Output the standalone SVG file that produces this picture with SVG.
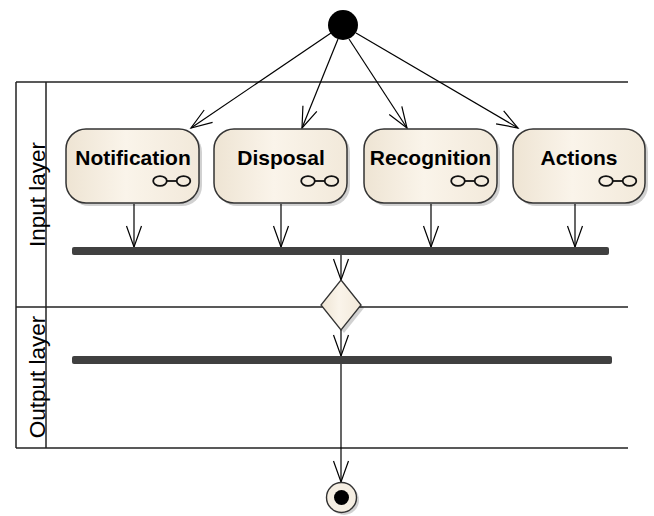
<svg xmlns="http://www.w3.org/2000/svg" width="654" height="516" viewBox="0 0 654 516">
  <style>
    .lane { stroke: #222; stroke-width: 1.5; fill: none; }
    .lanelabel { font-family: "Liberation Sans", Arial, sans-serif; font-size: 22.5px; fill: #000; text-anchor: middle; }
    .node { fill: url(#nodefill); stroke: #333; stroke-width: 1.5; }
    .shadow { fill: #000; opacity: 0.18; }
    .label { font-family: "Liberation Sans", Arial, sans-serif; font-size: 21px; font-weight: bold; fill: #000; text-anchor: middle; }
    .icon { fill: none; stroke: #111; stroke-width: 1.8; }
    .bar { fill: #404040; }
    .edge { stroke: #000; stroke-width: 1.2; fill: none; marker-end: url(#arrow); }
  </style>
  <defs>
    <linearGradient id="nodefill" x1="0" y1="0" x2="1" y2="0">
      <stop offset="0" stop-color="#EEE4D3"/>
      <stop offset="0.45" stop-color="#FAF4EA"/>
      <stop offset="1" stop-color="#F2E9DA"/>
    </linearGradient>
    <marker id="arrow" markerUnits="userSpaceOnUse" markerWidth="26" markerHeight="20" viewBox="-23 -10 26 20" refX="0" refY="0" orient="auto">
      <path d="M -21 -7.5 L 0 0 L -21 7.5" fill="none" stroke="#000" stroke-width="1.2"/>
    </marker>
  </defs>

  <g id="swimlanes">
    <line class="lane" x1="16" y1="82" x2="628" y2="82"/>
    <line class="lane" x1="16" y1="307" x2="628" y2="307"/>
    <line class="lane" x1="16" y1="448" x2="628" y2="448"/>
    <line class="lane" x1="16" y1="82" x2="16" y2="448"/>
    <line class="lane" x1="46" y1="82" x2="46" y2="448"/>
    <text class="lanelabel" transform="translate(45,194.5) rotate(-90)">Input layer</text>
    <text class="lanelabel" transform="translate(45,377) rotate(-90)">Output layer</text>
  </g>

  <g id="connectors">
    <line class="edge" x1="331" y1="33" x2="191" y2="128"/>
    <line class="edge" x1="338" y1="39" x2="302" y2="128"/>
    <line class="edge" x1="349" y1="39" x2="407" y2="128"/>
    <line class="edge" x1="356" y1="33" x2="518" y2="128"/>
    <line class="edge" x1="134" y1="204" x2="134" y2="247"/>
    <line class="edge" x1="281" y1="204" x2="281" y2="247"/>
    <line class="edge" x1="431" y1="204" x2="431" y2="247"/>
    <line class="edge" x1="575" y1="204" x2="575" y2="247"/>
    <line class="edge" x1="341" y1="255" x2="341" y2="280"/>
    <line class="edge" x1="341" y1="330" x2="341" y2="356"/>
    <line class="edge" x1="341" y1="364" x2="341" y2="482"/>
  </g>

  <g id="initial">
    <circle cx="343" cy="25" r="15" fill="#000"/>
  </g>

  <g id="notification">
    <rect class="shadow" x="69" y="132" width="133" height="74" rx="20"/>
    <rect class="node" x="66" y="129" width="133" height="74" rx="20"/>
    <text class="label" x="133" y="165">Notification</text>
    <g class="icon"><ellipse cx="160" cy="181" rx="6.8" ry="4.8"/><ellipse cx="183.5" cy="181" rx="6.8" ry="4.8"/><line x1="166.8" y1="181" x2="176.7" y2="181"/></g>
  </g>

  <g id="disposal">
    <rect class="shadow" x="217" y="132" width="133" height="74" rx="20"/>
    <rect class="node" x="214" y="129" width="133" height="74" rx="20"/>
    <text class="label" x="281" y="165">Disposal</text>
    <g class="icon"><ellipse cx="308" cy="181" rx="6.8" ry="4.8"/><ellipse cx="331.5" cy="181" rx="6.8" ry="4.8"/><line x1="314.8" y1="181" x2="324.7" y2="181"/></g>
  </g>

  <g id="recognition">
    <rect class="shadow" x="367" y="132" width="133" height="74" rx="20"/>
    <rect class="node" x="364" y="129" width="133" height="74" rx="20"/>
    <text class="label" x="430.5" y="165">Recognition</text>
    <g class="icon"><ellipse cx="458" cy="181" rx="6.8" ry="4.8"/><ellipse cx="481.5" cy="181" rx="6.8" ry="4.8"/><line x1="464.8" y1="181" x2="474.7" y2="181"/></g>
  </g>

  <g id="actions">
    <rect class="shadow" x="516" y="132" width="132" height="74" rx="20"/>
    <rect class="node" x="513" y="129" width="132" height="74" rx="20"/>
    <text class="label" x="579" y="165">Actions</text>
    <g class="icon"><ellipse cx="606" cy="181" rx="6.8" ry="4.8"/><ellipse cx="629.5" cy="181" rx="6.8" ry="4.8"/><line x1="612.8" y1="181" x2="622.7" y2="181"/></g>
  </g>

  <g id="fork1">
    <rect class="bar" x="72" y="247" width="537" height="8" rx="2"/>
  </g>

  <g id="decision">
    <polygon class="shadow" points="344,283 364,308 344,333 324,308"/>
    <polygon points="341,280 361,305 341,330 321,305" fill="url(#nodefill)" stroke="#333" stroke-width="1.3"/>
  </g>

  <g id="fork2">
    <rect class="bar" x="72" y="356" width="540" height="8" rx="2"/>
  </g>

  <g id="final">
    <circle class="shadow" cx="344" cy="500" r="15"/>
    <circle cx="341.5" cy="497.5" r="15" fill="#F5EEE2" stroke="#333" stroke-width="1.4"/>
    <circle cx="341.5" cy="497.5" r="7.5" fill="#000"/>
  </g>
</svg>
